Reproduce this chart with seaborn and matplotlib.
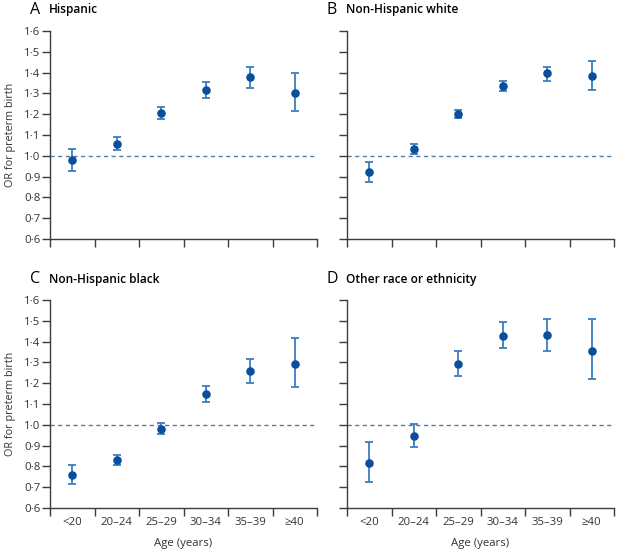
import matplotlib
matplotlib.use("Agg")
import matplotlib.pyplot as plt
from matplotlib.ticker import FixedLocator, FixedFormatter
import seaborn as sns
import pandas as pd

sns.set_theme(style="ticks")
plt.rcParams['font.family'] = ['Open Sans', 'DejaVu Sans']

age_groups = ["<20", "20–24", "25–29", "30–34", "35–39", "≥40"]
panel_letters = ["A", "B", "C", "D"]
panel_titles = ["Hispanic", "Non-Hispanic white", "Non-Hispanic black", "Other race or ethnicity"]

hispanic_or = [0.98, 1.058, 1.205, 1.316, 1.377, 1.303]
hispanic_lo = [0.928, 1.029, 1.176, 1.279, 1.327, 1.216]
hispanic_hi = [1.034, 1.088, 1.236, 1.353, 1.428, 1.396]

white_or = [0.921, 1.034, 1.202, 1.337, 1.396, 1.383]
white_lo = [0.875, 1.011, 1.181, 1.313, 1.361, 1.314]
white_hi = [0.968, 1.056, 1.221, 1.361, 1.429, 1.457]

black_or = [0.760, 0.831, 0.982, 1.149, 1.259, 1.294]
black_lo = [0.716, 0.807, 0.955, 1.110, 1.201, 1.182]
black_hi = [0.808, 0.855, 1.010, 1.187, 1.316, 1.417]

other_or = [0.815, 0.947, 1.292, 1.428, 1.430, 1.356]
other_lo = [0.725, 0.893, 1.233, 1.367, 1.355, 1.222]
other_hi = [0.915, 1.005, 1.356, 1.492, 1.510, 1.508]

y_ticks = [0.6, 0.7, 0.8, 0.9, 1.0, 1.1, 1.2, 1.3, 1.4, 1.5, 1.6]
y_labels = ["0·6", "0·7", "0·8", "0·9", "1·0", "1·1", "1·2", "1·3", "1·4", "1·5", "1·6"]

series = [
    (hispanic_or, hispanic_lo, hispanic_hi),
    (white_or, white_lo, white_hi),
    (black_or, black_lo, black_hi),
    (other_or, other_lo, other_hi),
]

W, H = 618, 553
fig = plt.figure(figsize=(W / 100, H / 100), dpi=100)
fig.patch.set_facecolor("white")

lefts = [50, 347]
tops = [31, 300]
aw, ah = 267, 208

marker_color = "#0b4f9c"
bar_color = "#3a7fc1"
dash_color = "#4f7fa6"
spine_color = "#3c3c3c"
text_color = "#333333"

for i in range(4):
    r, c = divmod(i, 2)
    l = lefts[c]
    t = tops[r]
    ax = fig.add_axes([l / W, 1 - (t + ah) / H, aw / W, ah / H])
    est, lo, hi = series[i]
    xpos = list(range(len(age_groups)))
    df = pd.DataFrame({"x": xpos, "age": age_groups, "OR": est, "lo": lo, "hi": hi})
    yerr = [[e - a for e, a in zip(est, lo)], [b - e for e, b in zip(est, hi)]]
    ax.axhline(1.0, color=dash_color, lw=1.0, ls=(0, (3, 2.5)), zorder=1)
    ax.errorbar(df["x"], df["OR"], yerr=yerr, fmt="none", ecolor=bar_color,
                elinewidth=1.3, capsize=3.2, capthick=1.3, zorder=2)
    sns.scatterplot(data=df, x="x", y="OR", ax=ax, color=marker_color,
                    s=38, edgecolor=marker_color, linewidth=0, zorder=3, legend=False)
    ax.set_xlim(-0.5, 5.5)
    ax.set_ylim(0.6, 1.6)
    ax.xaxis.set_major_locator(FixedLocator([k - 0.5 for k in range(7)]))
    ax.xaxis.set_major_formatter(FixedFormatter([""] * 7))
    ax.xaxis.set_minor_locator(FixedLocator(xpos))
    if r == 1:
        ax.xaxis.set_minor_formatter(FixedFormatter(age_groups))
        ax.set_xlabel("Age (years)", fontsize=8.2, color=text_color, labelpad=7)
    else:
        ax.xaxis.set_minor_formatter(FixedFormatter([""] * 6))
        ax.set_xlabel("")
    ax.tick_params(axis="x", which="minor", length=0, labelsize=8.2, labelcolor=text_color, pad=6.5)
    ax.tick_params(axis="x", which="major", length=6, width=1.0, color=spine_color)
    ax.set_yticks(y_ticks)
    if c == 0:
        ax.set_yticklabels(y_labels)
        ax.set_ylabel("OR for preterm birth", fontsize=7.8, color=text_color, labelpad=6)
    else:
        ax.set_yticklabels([""] * len(y_ticks))
        ax.set_ylabel("")
    ax.tick_params(axis="y", length=6, width=1.0, color=spine_color, labelsize=8.2,
                   labelcolor=text_color, pad=1)
    sns.despine(ax=ax)
    for s in ("left", "bottom"):
        ax.spines[s].set_color(spine_color)
        ax.spines[s].set_linewidth(1.0)
    ax.set_facecolor("white")
    fig.text((l - 20) / W, 1 - (t - 21) / H, panel_letters[i], fontsize=11.5,
             color="black", ha="left", va="center")
    fig.text((l - 1) / W, 1 - (t - 21) / H, panel_titles[i], fontsize=8.6,
             fontweight="semibold", color="black", ha="left", va="center")

fig.savefig("out.png", dpi=100)
